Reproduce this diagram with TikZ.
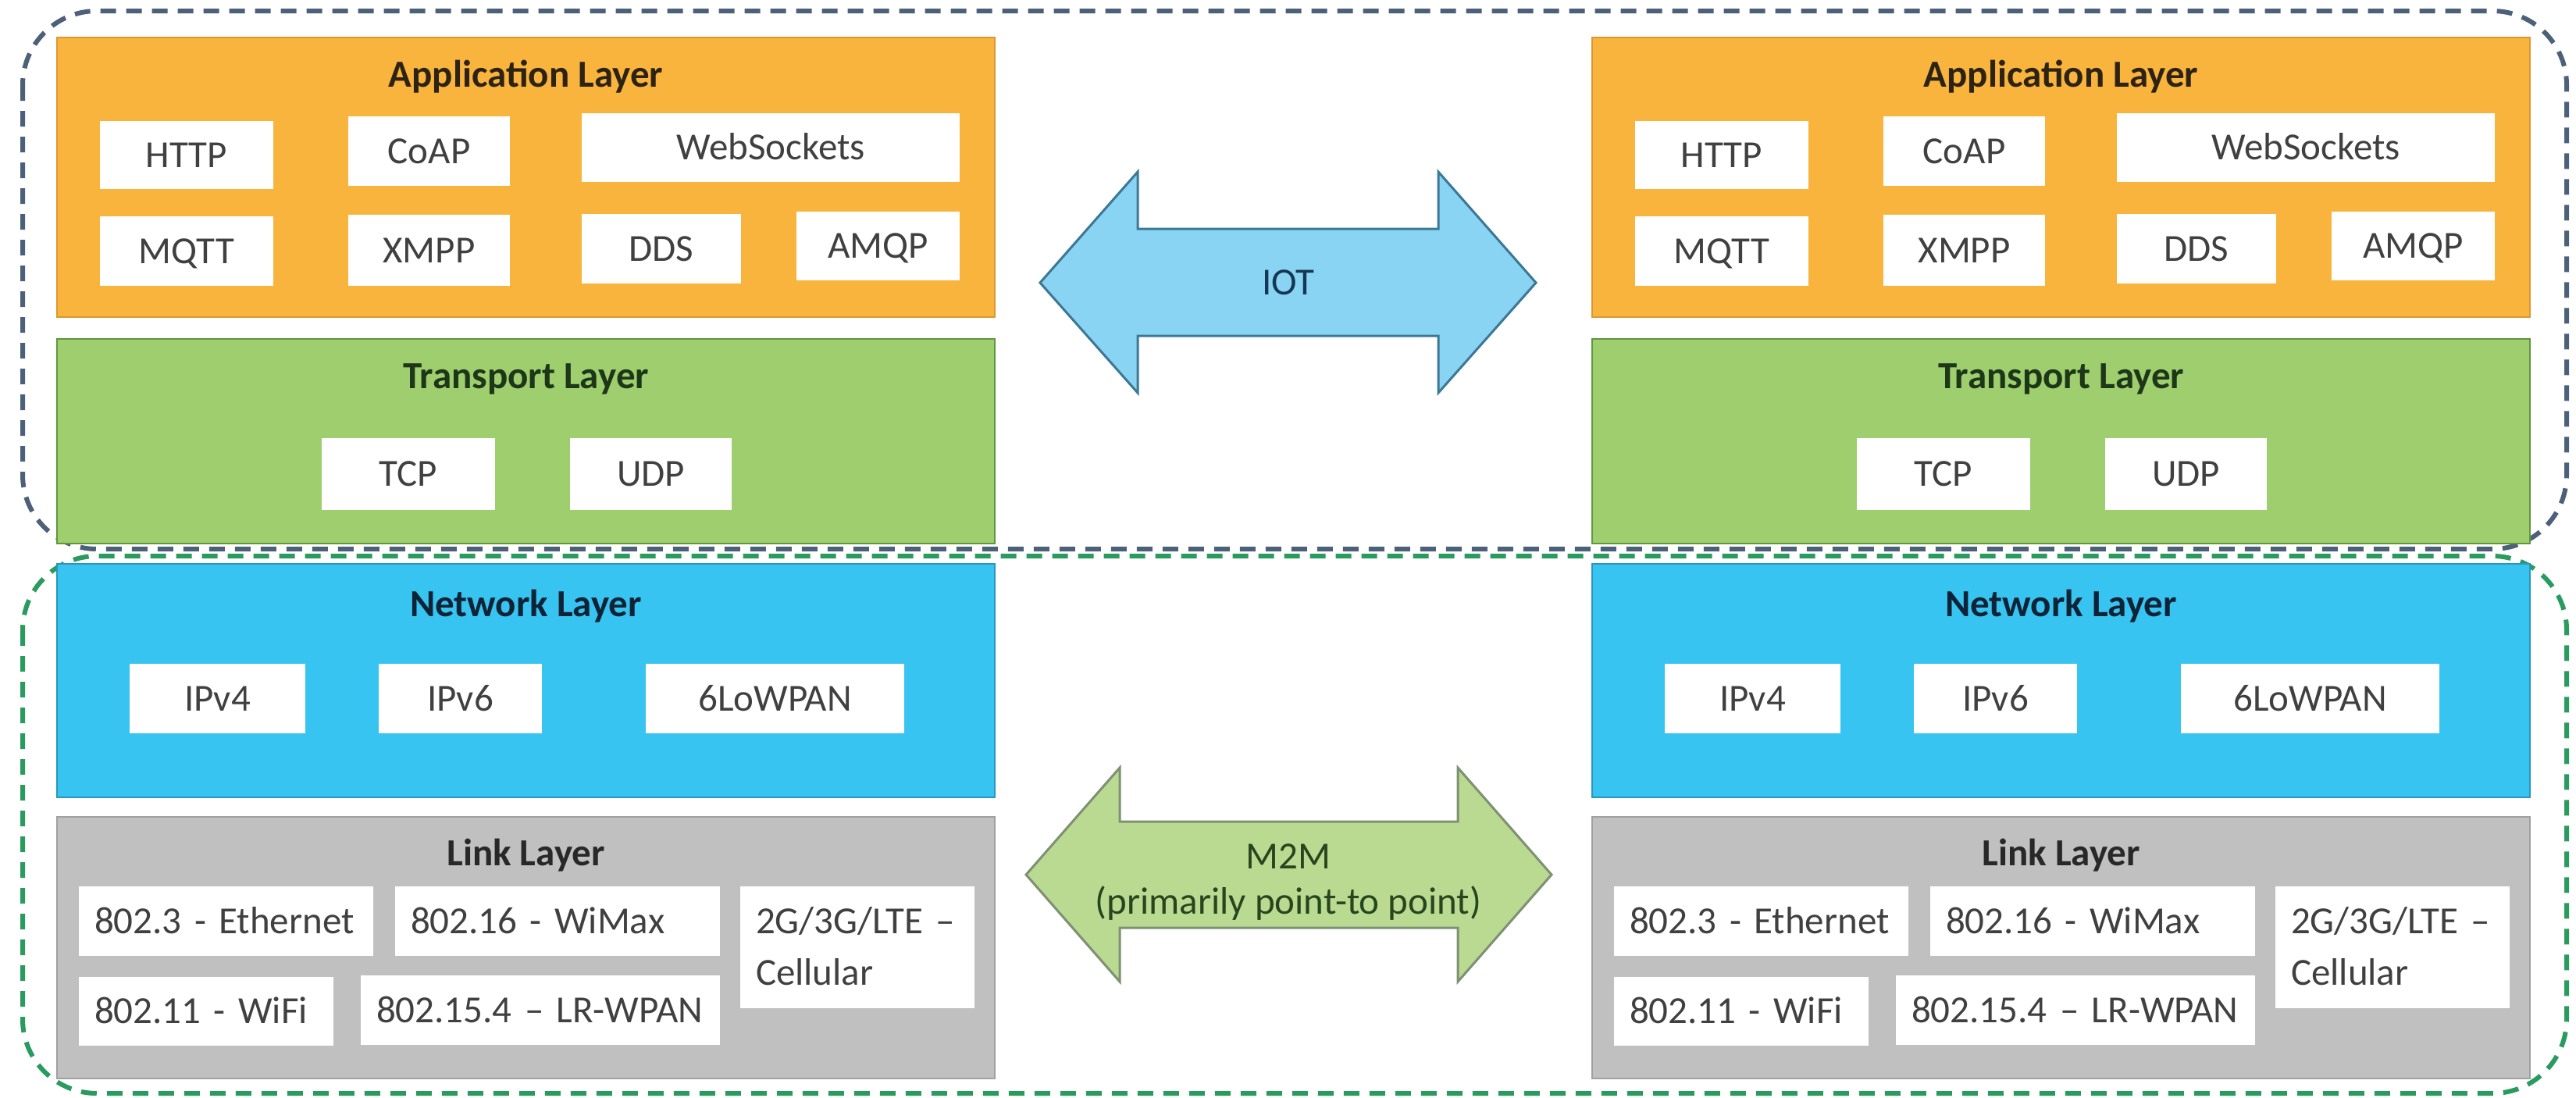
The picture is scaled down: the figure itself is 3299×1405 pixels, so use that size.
\documentclass[tikz,border=0pt]{standalone}
\usepackage{fontspec}
\setmainfont{Carlito}
\definecolor{orangeF}{RGB}{249,180,62}
\definecolor{orangeD}{RGB}{222,150,50}
\definecolor{transF}{RGB}{158,206,110}
\definecolor{transD}{RGB}{96,150,60}
\definecolor{netF}{RGB}{56,196,240}
\definecolor{netD}{RGB}{40,150,190}
\definecolor{linkF}{RGB}{192,192,192}
\definecolor{linkD}{RGB}{160,160,160}
\definecolor{iotF}{RGB}{137,212,242}
\definecolor{iotD}{RGB}{60,120,150}
\definecolor{mtmF}{RGB}{186,218,146}
\definecolor{mtmD}{RGB}{125,145,115}
\definecolor{blueDash}{RGB}{76,96,122}
\definecolor{greenDash}{RGB}{42,155,95}
\definecolor{itemText}{RGB}{64,64,64}
\definecolor{appT}{RGB}{45,35,20}
\definecolor{transT}{RGB}{30,55,25}
\definecolor{netT}{RGB}{15,35,55}
\definecolor{linkT}{RGB}{40,40,40}
\definecolor{iotT}{RGB}{20,55,85}
\definecolor{mtmT}{RGB}{40,70,30}
\newcommand\fs{\fontsize{9.8}{13.2}\selectfont}
\newcommand\mybox[7]{%
  \node[#1, minimum width={((#5)-(#3))*0.2pt}, minimum height={((#6)-(#4))*0.2pt}]
    (#2) at ({((#3)+(#5))/2},{((#4)+(#6))/2}) {#7};}
\newcommand\mylbox[7]{%
  \node[#1, minimum width={((#5)-(#3))*0.2pt}, minimum height={((#6)-(#4))*0.2pt},
    text width={((#5)-(#3)-40)*0.2pt}]
    (#2) at ({((#3)+(#5))/2},{((#4)+(#6))/2}) {#7};}
\tikzset{
  basetext/.style={font=\fs, text height=6.2pt, text depth=0pt},
  layer/.style={draw, line width=0.4pt, inner sep=0pt},
  appbox/.style={layer, fill=orangeF, draw=orangeD},
  transbox/.style={layer, fill=transF, draw=transD},
  netbox/.style={layer, fill=netF, draw=netD},
  linkbox/.style={layer, fill=linkF, draw=linkD},
  item/.style={basetext, fill=white, inner sep=0pt, text=itemText},
  litem/.style={item, align=left, inner xsep=4pt},
  ltitle/.style={basetext, font=\fs\bfseries, inner sep=0pt},
  groupline/.style={line width=1.2pt, dash pattern=on 4pt off 2.6pt, rounded corners=19pt},
  bigarrow/.style={line width=0.6pt, line join=miter},
}
\begin{document}
\begin{tikzpicture}[x=0.2pt,y=-0.2pt]
\useasboundingbox (0,0) rectangle (3299,1405);
\fill[white] (0,0) rectangle (3299,1405);

% group outlines
\draw[groupline, draw=blueDash] (29,14) rectangle (3287,703);
\draw[groupline, draw=greenDash] (29,712) rectangle (3287,1400);

\foreach \s/\o in {L/0,R/1966}{
  % layers
  \mybox{appbox}{app\s}{\o+73}{48}{\o+1274}{406}{}
  \mybox{transbox}{trans\s}{\o+73}{434}{\o+1274}{696}{}
  \mybox{netbox}{net\s}{\o+73}{722}{\o+1274}{1021}{}
  \mybox{linkbox}{link\s}{\o+73}{1046}{\o+1274}{1381}{}
  % titles
  \node[ltitle, text=appT] (appt\s) at (\o+673.5,96) {Application Layer};
  \node[ltitle, text=transT] (transt\s) at (\o+673.5,482) {Transport Layer};
  \node[ltitle, text=netT] (nett\s) at (\o+673.5,774) {Network Layer};
  \node[ltitle, text=linkT] (linkt\s) at (\o+673.5,1093) {Link Layer};
  % application items
  \mybox{item}{http\s}{\o+128}{155}{\o+350}{242}{HTTP}
  \mybox{item}{coap\s}{\o+446}{149}{\o+653}{238}{CoAP}
  \mybox{item}{ws\s}{\o+745}{145}{\o+1229}{233}{WebSockets}
  \mybox{item}{mqtt\s}{\o+128}{277}{\o+350}{366}{MQTT}
  \mybox{item}{xmpp\s}{\o+446}{275}{\o+653}{366}{XMPP}
  \mybox{item}{dds\s}{\o+745}{274}{\o+949}{363}{DDS}
  \mybox{item}{amqp\s}{\o+1020}{271}{\o+1229}{359}{AMQP}
  % transport items
  \mybox{item}{tcp\s}{\o+412}{561}{\o+634}{653}{TCP}
  \mybox{item}{udp\s}{\o+730}{561}{\o+937}{653}{UDP}
  % network items
  \mybox{item}{ipf\s}{\o+166}{850}{\o+391}{939}{IPv4}
  \mybox{item}{ips\s}{\o+485}{850}{\o+694}{939}{IPv6}
  \mybox{item}{lowpan\s}{\o+827}{850}{\o+1158}{939}{6LoWPAN}
  % link items
  \mylbox{litem}{eth\s}{\o+101}{1135}{\o+478}{1224}{802.3 - Ethernet}
  \mylbox{litem}{wimax\s}{\o+506}{1135}{\o+922}{1224}{802.16 - WiMax}
  \mylbox{litem, text depth=13.2pt}{cell\s}{\o+948}{1135}{\o+1248}{1291}{2G/3G/LTE –\\Cellular}
  \mylbox{litem}{wifi\s}{\o+101}{1251}{\o+427}{1339}{802.11 - WiFi}
  \mylbox{litem}{lrwpan\s}{\o+462}{1249}{\o+922}{1338}{802.15.4 – LR-WPAN}
}

% IOT double arrow
\draw[bigarrow, fill=iotF, draw=iotD]
  (1332,362) -- (1457,220) -- (1457,293) -- (1842,293) -- (1842,220)
  -- (1967,362) -- (1842,503) -- (1842,430) -- (1457,430) -- (1457,503) -- cycle;
\node[basetext, inner sep=0pt, text=iotT] (iot) at (1650,362) {IOT};

% M2M double arrow
\draw[bigarrow, fill=mtmF, draw=mtmD]
  (1314,1120) -- (1434,983) -- (1434,1052) -- (1867,1052) -- (1867,983)
  -- (1987,1120) -- (1867,1257) -- (1867,1188) -- (1434,1188) -- (1434,1257) -- cycle;
\node[inner sep=0pt, align=center, text=mtmT, font=\fontsize{9.8}{11.6}\selectfont, text height=17.8pt, text depth=0pt] (mtm) at (1650,1126) {M2M\\(primarily point-to point)};
\end{tikzpicture}
\end{document}
